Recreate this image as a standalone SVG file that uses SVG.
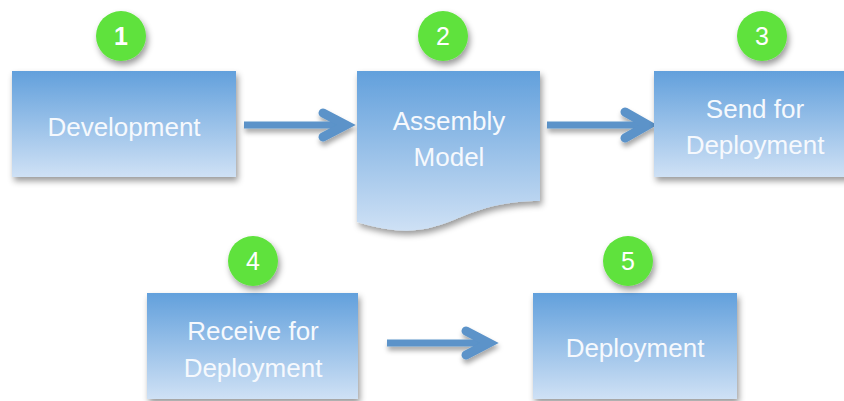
<svg xmlns="http://www.w3.org/2000/svg" width="844" height="401" viewBox="0 0 844 401">
<defs>
<linearGradient id="boxGrad" x1="0" y1="0" x2="0" y2="1">
<stop offset="0" stop-color="#62a0dc"/>
<stop offset="1" stop-color="#cfe1f5"/>
</linearGradient>
<linearGradient id="docGrad" gradientUnits="userSpaceOnUse" x1="0" y1="71" x2="0" y2="232">
<stop offset="0" stop-color="#62a0dc"/>
<stop offset="1" stop-color="#cfe1f5"/>
</linearGradient>
<filter id="shadow" x="-20%" y="-20%" width="140%" height="150%">
<feDropShadow dx="2" dy="4" stdDeviation="3" flood-color="#000" flood-opacity="0.4"/>
</filter>
<filter id="ashadow" x="-20%" y="-50%" width="140%" height="220%">
<feDropShadow dx="1" dy="4" stdDeviation="2.5" flood-color="#000" flood-opacity="0.35"/>
</filter>
</defs>
<style>
.box{fill:url(#boxGrad);filter:url(#shadow);}
.doc{fill:url(#docGrad);filter:url(#shadow);}
.lbl{font-family:"Liberation Sans",Arial,sans-serif;font-size:26px;fill:#f6f9fd;text-anchor:middle;}
.badge{fill:#5fe23d;filter:url(#shadow);}
.num{font-family:"Liberation Sans",Arial,sans-serif;font-size:25px;fill:#ffffff;text-anchor:middle;}
.shaft{stroke:#5b93c9;stroke-width:7;fill:none;}
.head{stroke:#5b93c9;stroke-width:9;fill:none;stroke-linecap:round;stroke-linejoin:miter;}
</style>
<rect width="844" height="401" fill="#ffffff"/>
<g id="connectors" filter="url(#ashadow)">
<g id="c1"><line class="shaft" x1="244" y1="125" x2="344" y2="125"/><polyline class="head" points="323,113 346,125 323,137"/></g>
<g id="c2"><line class="shaft" x1="547" y1="125" x2="646" y2="125"/><polyline class="head" points="625,112 648,125 625,138"/></g>
<g id="c3"><line class="shaft" x1="387" y1="343" x2="487" y2="343"/><polyline class="head" points="466,331 489,343 466,355"/></g>
</g>
<g id="node1">
<rect class="box" x="12" y="71" width="224" height="106"/>
<text class="lbl" x="124" y="136">Development</text>
<circle class="badge" cx="121" cy="36" r="25"/>
<text class="num" x="121" y="45" font-weight="bold">1</text>
</g>
<g id="node2">
<path class="doc" d="M357,71 H540 V201 C448.5,201 448.5,250 357,222 Z"/>
<text class="lbl" x="449" y="130">Assembly</text>
<text class="lbl" x="449" y="166">Model</text>
<circle class="badge" cx="443" cy="36" r="25"/>
<text class="num" x="443" y="45">2</text>
</g>
<g id="node3">
<rect class="box" x="654" y="71" width="204" height="106"/>
<text class="lbl" x="755" y="118">Send for</text>
<text class="lbl" x="755" y="154">Deployment</text>
<circle class="badge" cx="762" cy="36" r="25"/>
<text class="num" x="762" y="45">3</text>
</g>
<g id="node4">
<rect class="box" x="147" y="293" width="211" height="106"/>
<text class="lbl" x="253" y="340">Receive for</text>
<text class="lbl" x="253" y="377">Deployment</text>
<circle class="badge" cx="253" cy="261" r="25"/>
<text class="num" x="253" y="270">4</text>
</g>
<g id="node5">
<rect class="box" x="533" y="293" width="204" height="106"/>
<text class="lbl" x="635" y="357">Deployment</text>
<circle class="badge" cx="628" cy="261" r="25"/>
<text class="num" x="628" y="270">5</text>
</g>
</svg>
